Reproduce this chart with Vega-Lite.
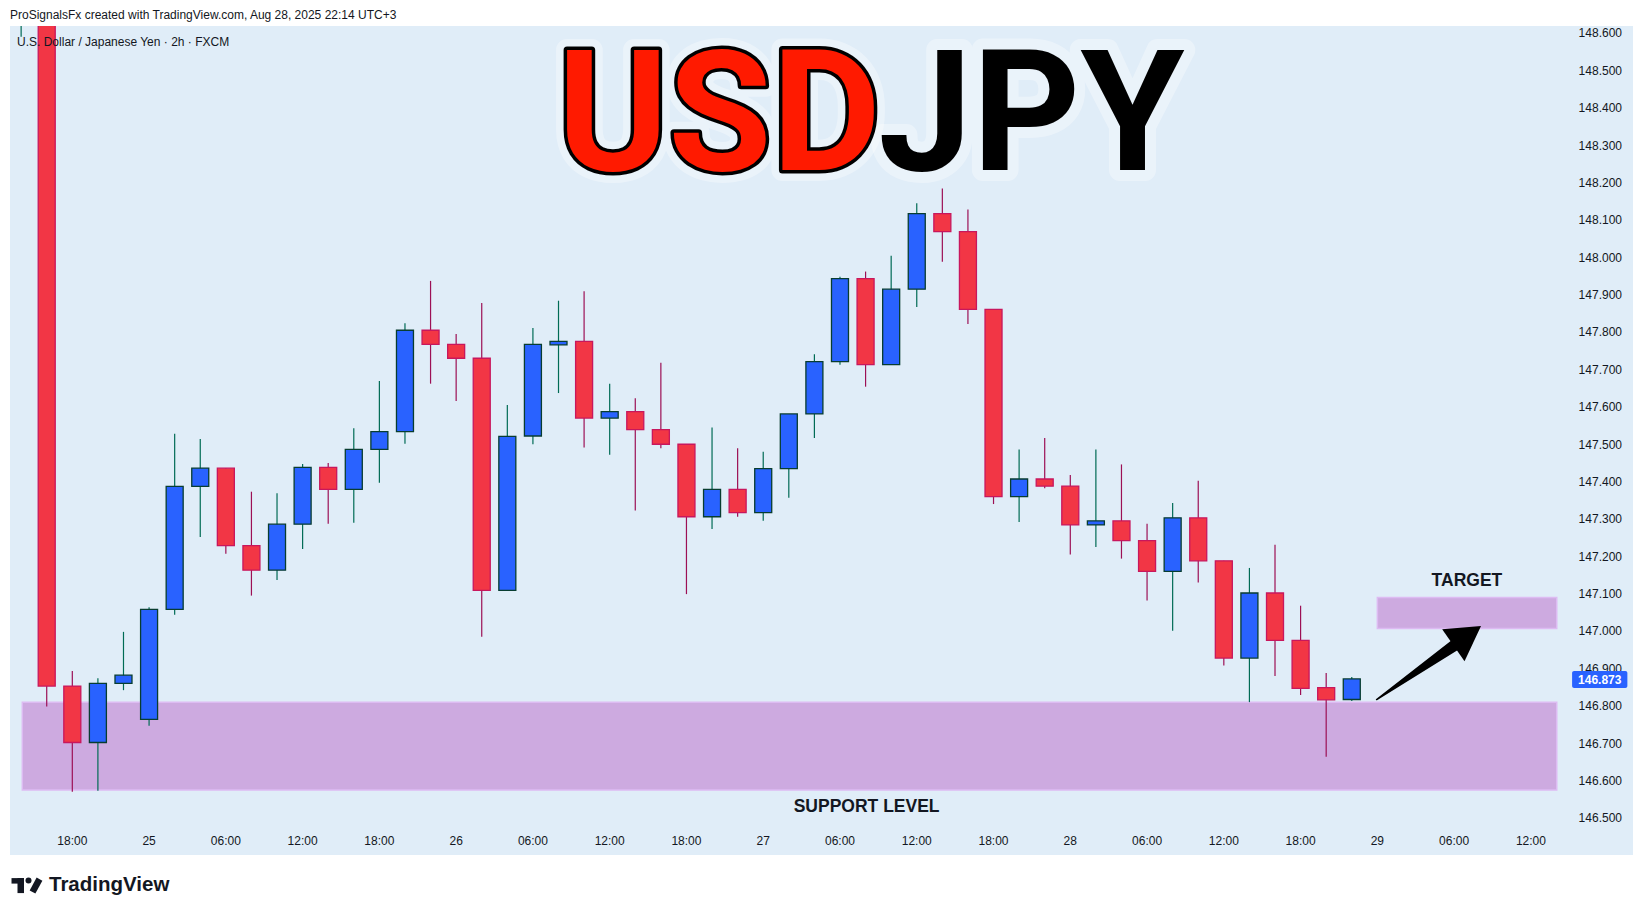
{
  "$schema": "https://vega.github.io/schema/vega-lite/v6.json",
  "width": 1623,
  "height": 829,
  "autosize": {"type": "none"},
  "padding": {"left": 10, "top": 26, "right": 10, "bottom": 61},
  "background": "#ffffff",
  "config": {"view": {"fill": "#E0EDF8", "stroke": null}, "font": "Liberation Sans", "scale": {"continuousPadding": 0}},
  "datasets": {
    "candles": [
      {"i": -2, "open": 148.65, "high": 148.76, "low": 148.591, "close": 148.72},
      {"i": -1, "open": 148.70, "high": 148.74, "low": 146.799, "close": 146.854},
      {"i": 0, "open": 146.854, "high": 146.894, "low": 146.571, "close": 146.703},
      {"i": 1, "open": 146.703, "high": 146.875, "low": 146.574, "close": 146.861},
      {"i": 2, "open": 146.861, "high": 146.999, "low": 146.843, "close": 146.883},
      {"i": 3, "open": 146.765, "high": 147.065, "low": 146.748, "close": 147.059},
      {"i": 4, "open": 147.059, "high": 147.529, "low": 147.045, "close": 147.388},
      {"i": 5, "open": 147.388, "high": 147.515, "low": 147.253, "close": 147.437},
      {"i": 6, "open": 147.437, "high": 147.437, "low": 147.208, "close": 147.230},
      {"i": 7, "open": 147.230, "high": 147.374, "low": 147.096, "close": 147.164},
      {"i": 8, "open": 147.164, "high": 147.370, "low": 147.138, "close": 147.287},
      {"i": 9, "open": 147.287, "high": 147.448, "low": 147.221, "close": 147.439},
      {"i": 10, "open": 147.439, "high": 147.451, "low": 147.288, "close": 147.380},
      {"i": 11, "open": 147.380, "high": 147.544, "low": 147.291, "close": 147.487},
      {"i": 12, "open": 147.487, "high": 147.670, "low": 147.398, "close": 147.535},
      {"i": 13, "open": 147.535, "high": 147.825, "low": 147.502, "close": 147.806},
      {"i": 14, "open": 147.806, "high": 147.938, "low": 147.663, "close": 147.768},
      {"i": 15, "open": 147.768, "high": 147.796, "low": 147.617, "close": 147.731},
      {"i": 16, "open": 147.731, "high": 147.879, "low": 146.986, "close": 147.110},
      {"i": 17, "open": 147.110, "high": 147.606, "low": 147.110, "close": 147.522},
      {"i": 18, "open": 147.523, "high": 147.812, "low": 147.501, "close": 147.768},
      {"i": 19, "open": 147.767, "high": 147.885, "low": 147.638, "close": 147.776},
      {"i": 20, "open": 147.776, "high": 147.910, "low": 147.492, "close": 147.571},
      {"i": 21, "open": 147.571, "high": 147.663, "low": 147.473, "close": 147.588},
      {"i": 22, "open": 147.588, "high": 147.624, "low": 147.324, "close": 147.540},
      {"i": 23, "open": 147.540, "high": 147.719, "low": 147.490, "close": 147.501},
      {"i": 24, "open": 147.501, "high": 147.501, "low": 147.100, "close": 147.307},
      {"i": 25, "open": 147.307, "high": 147.546, "low": 147.274, "close": 147.380},
      {"i": 26, "open": 147.380, "high": 147.490, "low": 147.307, "close": 147.318},
      {"i": 27, "open": 147.318, "high": 147.481, "low": 147.296, "close": 147.436},
      {"i": 28, "open": 147.436, "high": 147.582, "low": 147.358, "close": 147.582},
      {"i": 29, "open": 147.582, "high": 147.742, "low": 147.518, "close": 147.722},
      {"i": 30, "open": 147.722, "high": 147.949, "low": 147.714, "close": 147.944},
      {"i": 31, "open": 147.944, "high": 147.963, "low": 147.655, "close": 147.714},
      {"i": 32, "open": 147.714, "high": 148.005, "low": 147.714, "close": 147.916},
      {"i": 33, "open": 147.916, "high": 148.146, "low": 147.868, "close": 148.118},
      {"i": 34, "open": 148.118, "high": 148.185, "low": 147.989, "close": 148.070},
      {"i": 35, "open": 148.070, "high": 148.129, "low": 147.823, "close": 147.862},
      {"i": 36, "open": 147.862, "high": 147.862, "low": 147.341, "close": 147.361},
      {"i": 37, "open": 147.361, "high": 147.487, "low": 147.293, "close": 147.408},
      {"i": 38, "open": 147.408, "high": 147.518, "low": 147.383, "close": 147.389},
      {"i": 39, "open": 147.389, "high": 147.419, "low": 147.206, "close": 147.285},
      {"i": 40, "open": 147.285, "high": 147.487, "low": 147.226, "close": 147.296},
      {"i": 41, "open": 147.296, "high": 147.447, "low": 147.195, "close": 147.243},
      {"i": 42, "open": 147.243, "high": 147.288, "low": 147.083, "close": 147.161},
      {"i": 43, "open": 147.161, "high": 147.344, "low": 147.002, "close": 147.304},
      {"i": 44, "open": 147.304, "high": 147.403, "low": 147.131, "close": 147.189},
      {"i": 45, "open": 147.189, "high": 147.189, "low": 146.909, "close": 146.929},
      {"i": 46, "open": 146.929, "high": 147.170, "low": 146.811, "close": 147.103},
      {"i": 47, "open": 147.103, "high": 147.232, "low": 146.881, "close": 146.976},
      {"i": 48, "open": 146.976, "high": 147.069, "low": 146.830, "close": 146.848},
      {"i": 49, "open": 146.850, "high": 146.889, "low": 146.665, "close": 146.817},
      {"i": 50, "open": 146.818, "high": 146.878, "low": 146.814, "close": 146.873}
    ],
    "arrow": [
      {"i": 50.97, "price": 146.818, "pt": 0},
      {"i": 54.2, "price": 146.972, "pt": 1}
    ],
    "priceTicks": [
      {"price": 146.5}, {"price": 146.6}, {"price": 146.7}, {"price": 146.8}, {"price": 146.9},
      {"price": 147.0}, {"price": 147.1}, {"price": 147.2}, {"price": 147.3}, {"price": 147.4},
      {"price": 147.5}, {"price": 147.6}, {"price": 147.7}, {"price": 147.8}, {"price": 147.9},
      {"price": 148.0}, {"price": 148.1}, {"price": 148.2}, {"price": 148.3}, {"price": 148.4},
      {"price": 148.5}, {"price": 148.6}
    ],
    "timeTicks": [
      {"i": 0, "label": "18:00"}, {"i": 3, "label": "25"}, {"i": 6, "label": "06:00"}, {"i": 9, "label": "12:00"},
      {"i": 12, "label": "18:00"}, {"i": 15, "label": "26"}, {"i": 18, "label": "06:00"}, {"i": 21, "label": "12:00"},
      {"i": 24, "label": "18:00"}, {"i": 27, "label": "27"}, {"i": 30, "label": "06:00"}, {"i": 33, "label": "12:00"},
      {"i": 36, "label": "18:00"}, {"i": 39, "label": "28"}, {"i": 42, "label": "06:00"}, {"i": 45, "label": "12:00"},
      {"i": 48, "label": "18:00"}, {"i": 51, "label": "29"}, {"i": 54, "label": "06:00"}, {"i": 57, "label": "12:00"}
    ]
  },
  "layer": [
    {
      "data": {"values": [{}]},
      "mark": {"type": "rect", "fill": "#CDAAE0", "stroke": "#DDBBF2", "strokeWidth": 1.5},
      "encoding": {
        "x": {"datum": -1.954, "type": "quantitative", "scale": {"domain": [-2.435, 60.99], "nice": false, "zero": false, "padding": 0}, "axis": null},
        "x2": {"datum": 58.01},
        "y": {"datum": 146.576, "type": "quantitative", "scale": {"domain": [146.402, 148.62], "nice": false, "zero": false, "padding": 0}, "axis": null},
        "y2": {"datum": 146.811}
      }
    },
    {
      "data": {"values": [{}]},
      "mark": {"type": "rect", "fill": "#CDAAE0", "stroke": "#DDBBF2", "strokeWidth": 1.5},
      "encoding": {
        "x": {"datum": 51.0, "type": "quantitative", "axis": null},
        "x2": {"datum": 58.01},
        "y": {"datum": 147.008, "type": "quantitative", "axis": null},
        "y2": {"datum": 147.091}
      }
    },
    {
      "data": {"name": "candles"},
      "mark": {"type": "rule", "strokeWidth": 1.2, "clip": true},
      "encoding": {
        "x": {"field": "i", "type": "quantitative", "axis": null},
        "y": {"field": "low", "type": "quantitative", "axis": null},
        "y2": {"field": "high"},
        "color": {"condition": {"test": "datum.close >= datum.open", "value": "#006B55"}, "value": "#9C1055"}
      }
    },
    {
      "data": {"name": "candles"},
      "mark": {"type": "bar", "width": 17, "strokeWidth": 1.3, "clip": true},
      "encoding": {
        "x": {"field": "i", "type": "quantitative", "axis": null},
        "y": {"field": "open", "type": "quantitative", "axis": null},
        "y2": {"field": "close"},
        "fill": {"condition": {"test": "datum.close >= datum.open", "value": "#2962FF"}, "value": "#F23645"},
        "stroke": {"condition": {"test": "datum.close >= datum.open", "value": "#083D30"}, "value": "#C8175D"}
      }
    },
    {
      "data": {"name": "arrow"},
      "mark": {"type": "trail", "color": "#000000"},
      "encoding": {
        "x": {"field": "i", "type": "quantitative", "axis": null},
        "y": {"field": "price", "type": "quantitative", "axis": null},
        "size": {"field": "pt", "type": "quantitative", "scale": {"domain": [0, 1], "range": [1.5, 12]}, "legend": null}
      }
    },
    {
      "data": {"values": [{}]},
      "mark": {"type": "point", "shape": "triangle-up", "filled": true, "color": "#000000", "opacity": 1, "size": 1521, "angle": 55, "strokeWidth": 0},
      "encoding": {
        "x": {"datum": 54.51, "type": "quantitative", "axis": null},
        "y": {"datum": 146.989, "type": "quantitative", "axis": null}
      }
    },
    {
      "data": {"values": [{}]},
      "mark": {"type": "text", "text": "USD", "align": "right", "baseline": "alphabetic", "font": "Roboto", "fontWeight": "bold", "fontSize": 168, "fill": "#FFFFFF", "stroke": "#FFFFFF", "strokeWidth": 22, "strokeJoin": "round", "opacity": 0.35},
      "encoding": {
        "x": {"datum": 31.6, "type": "quantitative", "axis": null},
        "y": {"datum": 148.235, "type": "quantitative", "axis": null}
      }
    },
    {
      "data": {"values": [{}]},
      "mark": {"type": "text", "text": "JPY", "align": "left", "baseline": "alphabetic", "font": "Roboto", "fontWeight": "bold", "fontSize": 168, "fill": "#FFFFFF", "stroke": "#FFFFFF", "strokeWidth": 22, "strokeJoin": "round", "opacity": 0.35},
      "encoding": {
        "x": {"datum": 31.5, "type": "quantitative", "axis": null},
        "y": {"datum": 148.235, "type": "quantitative", "axis": null}
      }
    },
    {
      "data": {"values": [{}]},
      "mark": {"type": "text", "text": "USD", "align": "right", "baseline": "alphabetic", "font": "Roboto", "fontWeight": "bold", "fontSize": 168, "fill": "#000000", "stroke": "#000000", "strokeWidth": 7, "strokeJoin": "round"},
      "encoding": {
        "x": {"datum": 31.6, "type": "quantitative", "axis": null},
        "y": {"datum": 148.235, "type": "quantitative", "axis": null}
      }
    },
    {
      "data": {"values": [{}]},
      "mark": {"type": "text", "text": "USD", "align": "right", "baseline": "alphabetic", "font": "Roboto", "fontWeight": "bold", "fontSize": 168, "fill": "#FF1A00"},
      "encoding": {
        "x": {"datum": 31.6, "type": "quantitative", "axis": null},
        "y": {"datum": 148.235, "type": "quantitative", "axis": null}
      }
    },
    {
      "data": {"values": [{}]},
      "mark": {"type": "text", "text": "JPY", "align": "left", "baseline": "alphabetic", "font": "Roboto", "fontWeight": "bold", "fontSize": 168, "fill": "#000000"},
      "encoding": {
        "x": {"datum": 31.5, "type": "quantitative", "axis": null},
        "y": {"datum": 148.235, "type": "quantitative", "axis": null}
      }
    },
    {
      "data": {"values": [{}]},
      "mark": {"type": "text", "text": "ProSignalsFx created with TradingView.com, Aug 28, 2025 22:14 UTC+3", "align": "left", "baseline": "alphabetic", "font": "Liberation Sans", "fontSize": 12, "fill": "#131722"},
      "encoding": {
        "x": {"datum": -2.435, "type": "quantitative", "axis": null},
        "y": {"datum": 148.639, "type": "quantitative", "axis": null}
      }
    },
    {
      "data": {"values": [{}]},
      "mark": {"type": "text", "text": "U.S. Dollar / Japanese Yen · 2h · FXCM", "align": "left", "baseline": "middle", "font": "Liberation Sans", "fontSize": 12, "fill": "#131722"},
      "encoding": {
        "x": {"datum": -2.16, "type": "quantitative", "axis": null},
        "y": {"datum": 148.576, "type": "quantitative", "axis": null}
      }
    },
    {
      "data": {"values": [{}]},
      "mark": {"type": "text", "text": "TARGET", "align": "center", "baseline": "middle", "font": "Liberation Sans", "fontWeight": "bold", "fontSize": 17.5, "fill": "#131722"},
      "encoding": {
        "x": {"datum": 54.5, "type": "quantitative", "axis": null},
        "y": {"datum": 147.136, "type": "quantitative", "axis": null}
      }
    },
    {
      "data": {"values": [{}]},
      "mark": {"type": "text", "text": "SUPPORT LEVEL", "align": "center", "baseline": "middle", "font": "Liberation Sans", "fontWeight": "bold", "fontSize": 17.5, "fill": "#131722"},
      "encoding": {
        "x": {"datum": 31.04, "type": "quantitative", "axis": null},
        "y": {"datum": 146.531, "type": "quantitative", "axis": null}
      }
    },
    {
      "data": {"name": "priceTicks"},
      "mark": {"type": "text", "align": "right", "baseline": "middle", "font": "Liberation Sans", "fontSize": 12, "fill": "#131722"},
      "encoding": {
        "x": {"datum": 60.56, "type": "quantitative", "axis": null},
        "y": {"field": "price", "type": "quantitative", "axis": null},
        "text": {"field": "price", "type": "quantitative", "format": ".3f"}
      }
    },
    {
      "data": {"name": "timeTicks"},
      "mark": {"type": "text", "align": "center", "baseline": "middle", "font": "Liberation Sans", "fontSize": 12, "fill": "#131722"},
      "encoding": {
        "x": {"field": "i", "type": "quantitative", "axis": null},
        "y": {"datum": 146.439, "type": "quantitative", "axis": null},
        "text": {"field": "label", "type": "nominal"}
      }
    },
    {
      "data": {"values": [{}]},
      "mark": {"type": "rect", "fill": "#2962FF", "cornerRadius": 2},
      "encoding": {
        "x": {"datum": 58.61, "type": "quantitative", "axis": null},
        "x2": {"datum": 60.77},
        "y": {"datum": 146.849, "type": "quantitative", "axis": null},
        "y2": {"datum": 146.894}
      }
    },
    {
      "data": {"values": [{}]},
      "mark": {"type": "text", "text": "146.873", "align": "center", "baseline": "middle", "font": "Liberation Sans", "fontWeight": "bold", "fontSize": 12, "fill": "#FFFFFF"},
      "encoding": {
        "x": {"datum": 59.69, "type": "quantitative", "axis": null},
        "y": {"datum": 146.8715, "type": "quantitative", "axis": null}
      }
    },
    {
      "data": {"values": [{}]},
      "mark": {"type": "text", "text": "TradingView", "align": "left", "baseline": "middle", "font": "Liberation Sans", "fontWeight": "bold", "fontSize": 20.5, "fill": "#131722"},
      "encoding": {
        "x": {"datum": -0.911, "type": "quantitative", "axis": null},
        "y": {"datum": 146.321, "type": "quantitative", "axis": null}
      }
    },
    {
      "data": {"values": [{}]},
      "mark": {"type": "rect", "fill": "#131722"},
      "encoding": {
        "x": {"datum": -2.376, "type": "quantitative", "axis": null},
        "x2": {"datum": -1.888},
        "y": {"datum": 146.3402, "type": "quantitative", "axis": null},
        "y2": {"datum": 146.3255}
      }
    },
    {
      "data": {"values": [{}]},
      "mark": {"type": "rect", "fill": "#131722"},
      "encoding": {
        "x": {"datum": -2.142, "type": "quantitative", "axis": null},
        "x2": {"datum": -1.888},
        "y": {"datum": 146.3402, "type": "quantitative", "axis": null},
        "y2": {"datum": 146.3001}
      }
    },
    {
      "data": {"values": [{}]},
      "mark": {"type": "point", "shape": "circle", "filled": true, "color": "#131722", "opacity": 1, "size": 36},
      "encoding": {
        "x": {"datum": -1.712, "type": "quantitative", "axis": null},
        "y": {"datum": 146.3335, "type": "quantitative", "axis": null}
      }
    },
    {
      "data": {"values": [{}]},
      "mark": {"type": "rule", "color": "#131722", "strokeWidth": 6.5, "strokeCap": "butt"},
      "encoding": {
        "x": {"datum": -1.555, "type": "quantitative", "axis": null},
        "y": {"datum": 146.3028, "type": "quantitative", "axis": null},
        "x2": {"datum": -1.282},
        "y2": {"datum": 146.3375}
      }
    }
  ]
}
